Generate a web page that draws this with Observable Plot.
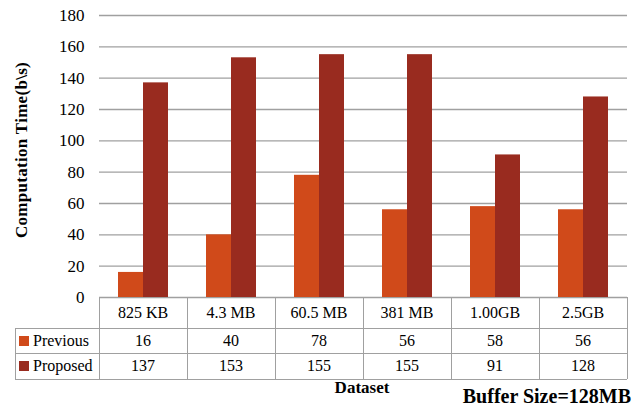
<!DOCTYPE html>
<html>
<head>
<meta charset="utf-8">
<script src="https://cdn.jsdelivr.net/npm/d3@7"></script>
<script src="https://cdn.jsdelivr.net/npm/@observablehq/plot@0.6"></script>
<style>
  body { margin: 0; background: #fff; }
  #wrap { position: relative; width: 633px; height: 407px; overflow: hidden;
          font-family: 'Liberation Serif', serif; color: #000; }
  #wrap svg { position: absolute; left: 0; top: 0; }
  #wrap svg text { font-family: 'Liberation Serif', serif; font-size: 17px; }
  .cell { position: absolute; box-sizing: border-box; display: flex; align-items: center;
          justify-content: center; font-family: 'Liberation Serif', serif; font-size: 16px; white-space: nowrap; }
  .hline, .vline { position: absolute; background: #a0a0a0; }
  .swatch { display: inline-block; width: 10px; height: 10px; margin-right: 4px; }
  .ylabel { position: absolute; font-weight: bold; font-size: 17px; white-space: nowrap;
            transform: translate(-50%, -50%) rotate(-90deg); letter-spacing: 0.3px; }
  .xlabel { position: absolute; font-weight: bold; font-size: 17px; transform: translateX(-50%); }
  .note { position: absolute; font-weight: bold; font-size: 20px; right: 2px; white-space: nowrap; }
</style>
</head>
<body>
<div id="wrap"></div>
<script>
// Computation time per dataset, buffer size 128MB
const categories = ["825 KB", "4.3 MB", "60.5 MB", "381 MB", "1.00GB", "2.5GB"];
const series = ["Previous", "Proposed"];
const previous = [16, 40, 78, 56, 58, 56];
const proposed = [137, 153, 155, 155, 91, 128];
const yTicks = [0, 20, 40, 60, 80, 100, 120, 140, 160, 180];
const colors = ["#d04a1a", "#992b1f"];

const values = {Previous: previous, Proposed: proposed};
const rows = categories.flatMap((c, i) => series.map(s => ({dataset: c, series: s, value: values[s][i]})));

const wrap = document.getElementById("wrap");

const chart = Plot.plot({
  width: 633,
  height: 298,
  marginTop: 15,
  marginBottom: 1,
  marginLeft: 98,
  marginRight: 6,
  style: {fontFamily: "Liberation Serif, serif", fontSize: "17px", color: "#000", background: "transparent", overflow: "visible"},
  fx: {domain: categories, paddingInner: 0, paddingOuter: 0, axis: null, label: null},
  x: {domain: series, paddingInner: 0, paddingOuter: 0.738, axis: null},
  y: {domain: [0, 180], label: null},
  color: {domain: series, range: colors},
  marks: [
    Plot.ruleY(yTicks, {stroke: "#a0a0a0", strokeWidth: 1.4}),
    Plot.barY(rows, {fx: "dataset", x: "series", y: "value", fill: "series"}),
    Plot.axisY({ticks: yTicks, tickSize: 0, tickPadding: 15, label: null, line: true, stroke: "#a0a0a0", fill: "#000"})
  ]
});
wrap.appendChild(chart);

// Data table under the chart, columns aligned with the facet bands
const fx = chart.scale("fx");
const colX = categories.map(c => fx.apply(c));
const colW = fx.bandwidth;
const left0 = 15;
const right0 = colX[colX.length - 1] + colW;
const rowY = [297, 328, 353, 379];

function div(cls, style, html) {
  const d = document.createElement("div");
  d.className = cls;
  Object.assign(d.style, style);
  if (html != null) d.innerHTML = html;
  wrap.appendChild(d);
  return d;
}

// horizontal rules
div("hline", {left: colX[0] + "px", top: rowY[0] + "px", width: (right0 - colX[0]) + "px", height: "1px"});
for (let r = 1; r < rowY.length; r++) {
  div("hline", {left: left0 + "px", top: rowY[r] + "px", width: (right0 - left0) + "px", height: "1.4px"});
}
// vertical rules
div("vline", {left: left0 + "px", top: rowY[1] + "px", width: "1.4px", height: (rowY[3] - rowY[1]) + "px"});
[...colX, right0].forEach(x => {
  div("vline", {left: (x - 0.5) + "px", top: rowY[0] + "px", width: "1.4px", height: (rowY[3] - rowY[0]) + "px"});
});

// category labels row
categories.forEach((c, i) => {
  div("cell", {left: colX[i] + "px", top: rowY[0] + "px", width: colW + "px", height: (rowY[1] - rowY[0]) + "px"}, c);
});
// series rows
series.forEach((s, k) => {
  const top = rowY[k + 1], h = rowY[k + 2] - rowY[k + 1];
  div("cell", {left: (left0 + 4) + "px", top: top + "px", width: (colX[0] - left0 - 4) + "px", height: h + "px", justifyContent: "flex-start"},
      `<span class="swatch" style="background:${colors[k]}"></span>${s}`);
  values[s].forEach((v, i) => {
    div("cell", {left: colX[i] + "px", top: top + "px", width: colW + "px", height: h + "px"}, String(v));
  });
});

// titles
div("ylabel", {left: "22px", top: "150px"}, "Computation Time(b\\s)");
div("xlabel", {left: "362px", top: "378px"}, "Dataset");
div("note", {top: "385px"}, "Buffer Size=128MB");
</script>
</body>
</html>
